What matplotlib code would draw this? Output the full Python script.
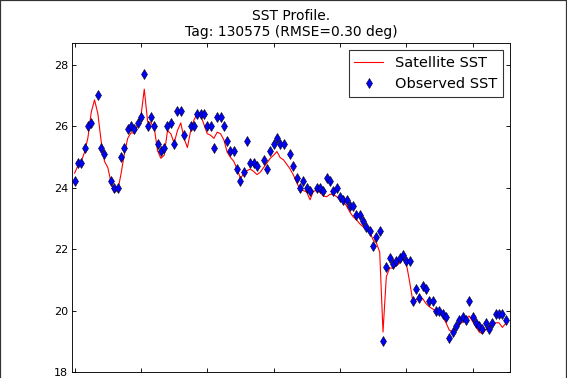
import matplotlib
matplotlib.use('Agg')
import matplotlib.pyplot as plt
from matplotlib.patches import Rectangle
import numpy as np

# day index along the track
days = np.arange(131)

# satellite SST sampled on every day
sat_sst = [24.47, 24.72, 24.85, 25.15, 25.62, 26.45, 26.85, 26.4, 25.5, 24.85,
           24.65, 24.15, 23.85, 23.9, 24.45, 25.1, 25.6, 25.78, 25.77, 26.05,
           26.32, 27.2, 26.15, 26.1, 25.95, 25.2, 24.95, 25.05, 25.85, 25.75,
           25.45, 25.85, 26.1, 25.6, 25.3, 25.85, 26.2, 26.4, 26.35, 26.05,
           25.75, 25.7, 25.6, 25.8, 25.75, 25.55, 25.15, 24.98, 24.85, 24.6,
           24.3, 24.45, 24.55, 24.6, 24.52, 24.42, 24.5, 24.65, 24.8, 24.95,
           25.05, 25.17, 24.97, 24.9, 24.75, 24.6, 24.4, 24.15, 23.95, 23.9,
           23.85, 23.6, 23.88, 23.9, 23.85, 23.72, 23.7, 23.78, 23.78, 23.7,
           23.62, 23.55, 23.4, 23.2, 23.05, 22.95, 22.82, 22.72, 22.67, 22.55,
           22.3, 22.2, 21.9, 19.3, 21.1, 21.38, 21.38, 21.46, 21.54, 21.68,
           21.55, 20.95, 20.3, 20.35, 20.42, 20.38, 20.22, 20.12, 20.05, 19.97,
           19.93, 19.8, 19.6, 19.36, 19.3, 19.45, 19.55, 19.62, 19.72, 19.82,
           19.65, 19.48, 19.3, 19.25, 19.38, 19.47, 19.55, 19.6, 19.6, 19.45,
           19.58]

# tag observations (nan = no observation that day)
nan = np.nan
obs_sst = [24.2, 24.8, 24.8, 25.3, 26.0, 26.1, nan, 27.0, 25.3, 25.1,
           nan, 24.2, 24.0, 24.0, 25.0, 25.3, 25.9, 26.0, 25.9, 26.1,
           26.3, 27.7, 26.0, 26.3, 26.0, 25.4, 25.2, 25.3, 26.0, 26.1,
           25.4, 26.5, 26.5, 25.7, nan, 26.0, 26.0, 26.4, 26.4, 26.4,
           26.0, 26.0, 25.3, 26.3, 26.3, 26.0, 25.5, 25.2, 25.2, 24.6,
           24.2, 24.5, 25.5, 24.8, 24.8, 24.7, nan, 24.9, 24.6, 25.2,
           25.4, 25.6, 25.4, 25.4, nan, 25.1, 24.7, 24.3, 24.0, 24.2,
           24.0, 23.9, nan, 24.0, 24.0, 23.9, 24.3, 24.2, 23.9, 24.0,
           23.7, 23.6, 23.6, 23.4, 23.4, 23.1, 23.1, 22.9, 22.7, 22.6,
           22.1, 22.4, 22.6, 19.0, 21.4, 21.7, 21.5, 21.6, 21.7, 21.8,
           21.6, 21.6, 20.3, 20.7, 20.4, 20.8, 20.7, 20.3, 20.3, 20.0,
           20.0, 19.9, 19.8, 19.1, 19.3, 19.5, 19.7, 19.8, 19.7, 20.3,
           19.8, 19.6, 19.5, 19.4, 19.6, 19.4, 19.6, 19.9, 19.9, 19.9,
           19.7]

tick_days = [0, 20, 40, 60, 80, 100, 120]
tick_labels = ['2011-06-01', '2011-06-21', '2011-07-11', '2011-07-31',
               '2011-08-20', '2011-09-09', '2011-09-29']

fig = plt.figure(figsize=(567 / 80.0, 378 / 80.0), dpi=80)
ax = fig.add_axes([72 / 567.0, 6 / 378.0, 438 / 567.0, 329 / 378.0])

ax.plot(days, sat_sst, '-', color='red', lw=1.0, label='Satellite SST')
ax.plot(days, obs_sst, 'd', color='blue', mec='black', mew=0.5, ms=7,
        label='Observed SST')

ax.set_xlim(-0.8, 131.3)
ax.set_ylim(18, np.nanmax(obs_sst) + 1)
ax.set_yticks([18, 20, 22, 24, 26, 28])
ax.set_xticks(tick_days)
ax.set_xticklabels(tick_labels, rotation=45, ha='center')
ax.tick_params(direction='in', top=True, right=True, labelsize=10, length=4)

ax.set_title('SST Profile.\nTag: 130575 (RMSE=0.30 deg)', fontsize=12.5)
leg = ax.legend(loc='upper right', numpoints=1, fontsize=13, fancybox=False,
                handlelength=2.0, borderaxespad=0.5)
leg.get_frame().set_edgecolor('black')
leg.get_frame().set_linewidth(1.0)

# dark frame round the picture (bottom edge is cut off)
fig.add_artist(Rectangle((0, -0.1), 1, 1.1, transform=fig.transFigure,
                         fill=False, ec='#333333', lw=2))

fig.savefig('out.png', dpi=80)
